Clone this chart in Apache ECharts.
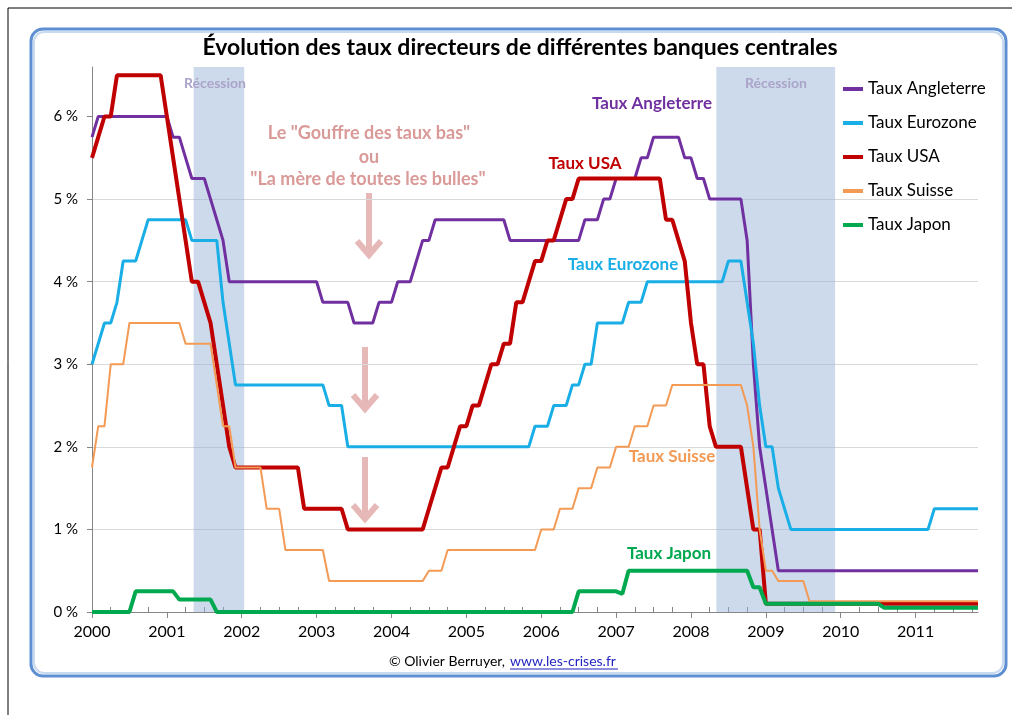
<!DOCTYPE html>
<html><head><meta charset="utf-8">
<script src="https://cdn.jsdelivr.net/npm/echarts@6/dist/echarts.min.js"></script>
<style>html,body{margin:0;padding:0;background:#fff}#c{width:1019px;height:715px}</style>
</head><body><div id="c"></div>
<script>
// ---- data (month "YYYY-MM" -> policy rate in %) ----
const tauxAngleterre = [
 ['2000-01',5.75],['2000-02',6.0],['2001-01',6.0],['2001-02',5.75],['2001-03',5.75],['2001-04',5.5],
 ['2001-05',5.25],['2001-07',5.25],['2001-08',5.0],['2001-09',4.75],['2001-10',4.5],['2001-11',4.0],
 ['2003-01',4.0],['2003-02',3.75],['2003-06',3.75],['2003-07',3.5],['2003-10',3.5],['2003-11',3.75],
 ['2004-01',3.75],['2004-02',4.0],['2004-04',4.0],['2004-05',4.25],['2004-06',4.5],['2004-07',4.5],
 ['2004-08',4.75],['2005-07',4.75],['2005-08',4.5],['2006-07',4.5],['2006-08',4.75],['2006-10',4.75],
 ['2006-11',5.0],['2006-12',5.0],['2007-01',5.25],['2007-04',5.25],['2007-05',5.5],['2007-06',5.5],
 ['2007-07',5.75],['2007-11',5.75],['2007-12',5.5],['2008-01',5.5],['2008-02',5.25],['2008-03',5.25],
 ['2008-04',5.0],['2008-09',5.0],['2008-10',4.5],['2008-11',3.0],['2008-12',2.0],['2009-01',1.5],
 ['2009-02',1.0],['2009-03',0.5],['2011-11',0.5]
];
const tauxEurozone = [
 ['2000-01',3.0],['2000-03',3.5],['2000-04',3.5],['2000-05',3.75],['2000-06',4.25],['2000-08',4.25],
 ['2000-09',4.5],['2000-10',4.75],['2001-04',4.75],['2001-05',4.5],['2001-09',4.5],['2001-10',3.75],
 ['2001-11',3.25],['2001-12',2.75],['2003-02',2.75],['2003-03',2.5],['2003-05',2.5],['2003-06',2.0],
 ['2005-11',2.0],['2005-12',2.25],['2006-02',2.25],['2006-03',2.5],['2006-05',2.5],['2006-06',2.75],
 ['2006-07',2.75],['2006-08',3.0],['2006-09',3.0],['2006-10',3.5],['2007-02',3.5],['2007-03',3.75],
 ['2007-05',3.75],['2007-06',4.0],['2008-06',4.0],['2008-07',4.25],['2008-09',4.25],['2008-10',3.75],
 ['2008-11',3.25],['2008-12',2.5],['2009-01',2.0],['2009-02',2.0],['2009-03',1.5],['2009-04',1.25],
 ['2009-05',1.0],['2011-03',1.0],['2011-04',1.25],['2011-11',1.25]
];
const tauxUSA = [
 ['2000-01',5.5],['2000-02',5.75],['2000-03',6.0],['2000-04',6.0],['2000-05',6.5],['2000-12',6.5],
 ['2001-01',6.0],['2001-02',5.5],['2001-03',5.0],['2001-04',4.5],['2001-05',4.0],['2001-06',4.0],
 ['2001-07',3.75],['2001-08',3.5],['2001-09',3.0],['2001-10',2.5],['2001-11',2.0],['2001-12',1.75],
 ['2002-10',1.75],['2002-11',1.25],['2003-05',1.25],['2003-06',1.0],['2004-06',1.0],['2004-07',1.25],
 ['2004-08',1.5],['2004-09',1.75],['2004-10',1.75],['2004-11',2.0],['2004-12',2.25],['2005-01',2.25],
 ['2005-02',2.5],['2005-03',2.5],['2005-04',2.75],['2005-05',3.0],['2005-06',3.0],['2005-07',3.25],
 ['2005-08',3.25],['2005-09',3.75],['2005-10',3.75],['2005-11',4.0],['2005-12',4.25],['2006-01',4.25],
 ['2006-02',4.5],['2006-03',4.5],['2006-04',4.75],['2006-05',5.0],['2006-06',5.0],['2006-07',5.25],
 ['2007-08',5.25],['2007-09',4.75],['2007-10',4.75],['2007-11',4.5],['2007-12',4.25],['2008-01',3.5],
 ['2008-02',3.0],['2008-03',3.0],['2008-04',2.25],['2008-05',2.0],['2008-09',2.0],['2008-10',1.5],
 ['2008-11',1.0],['2008-12',1.0],['2009-01',0.1],['2011-11',0.1]
];
const tauxSuisse = [
 ['2000-01',1.75],['2000-02',2.25],['2000-03',2.25],['2000-04',3.0],['2000-06',3.0],['2000-07',3.5],
 ['2001-03',3.5],['2001-04',3.25],['2001-08',3.25],['2001-09',2.75],['2001-10',2.25],['2001-11',2.25],
 ['2001-12',1.75],['2002-04',1.75],['2002-05',1.25],['2002-07',1.25],['2002-08',0.75],['2003-02',0.75],
 ['2003-03',0.375],['2004-06',0.375],['2004-07',0.5],['2004-09',0.5],['2004-10',0.75],['2005-12',0.75],
 ['2006-01',1.0],['2006-03',1.0],['2006-04',1.25],['2006-06',1.25],['2006-07',1.5],['2006-09',1.5],
 ['2006-10',1.75],['2006-12',1.75],['2007-01',2.0],['2007-03',2.0],['2007-04',2.25],['2007-06',2.25],
 ['2007-07',2.5],['2007-09',2.5],['2007-10',2.75],['2008-09',2.75],['2008-10',2.5],['2008-11',2.0],
 ['2008-12',1.0],['2009-01',0.5],['2009-02',0.5],['2009-03',0.375],['2009-07',0.375],['2009-08',0.13],
 ['2011-11',0.13]
];
const tauxJapon = [
 ['2000-01',0],['2000-07',0],['2000-08',0.25],['2001-01',0.25],['2001-02',0.25],['2001-03',0.15],
 ['2001-08',0.15],['2001-09',0],['2006-06',0],['2006-07',0.25],['2007-01',0.25],['2007-02',0.22],
 ['2007-03',0.5],['2008-09',0.5],['2008-10',0.5],['2008-11',0.3],['2008-12',0.3],['2009-01',0.1],
 ['2010-07',0.1],['2010-08',0.05],['2011-11',0.05]
];
const recessions = [['2001-05-10','2002-01-13'],['2008-05-03','2009-12-04']];
const yearTicks = [2000,2001,2002,2003,2004,2005,2006,2007,2008,2009,2010,2011];
const pctTicks = [0,1,2,3,4,5,6];
const seriesNames = ['Taux Angleterre','Taux Eurozone','Taux USA','Taux Suisse','Taux Japon'];

// ---- helpers ----
function toX(s){const p=s.split('-').map(Number);return p[0]+(p[1]-1)/12+((p[2]||1)-1)/365;}
function pts(arr){return arr.map(d=>[toX(d[0]),d[1]]);}
const xMin = toX('2000-01'), xMax = toX('2011-11');
const minorTicks=[];
yearTicks.forEach(y=>{[0.25,0.5,0.75].forEach(q=>{if(y+q<=xMax)minorTicks.push(y+q);});});

const FONT='Lato, "Open Sans", sans-serif';
const colors=['#7030a0','#19aee6','#c00000','#f39a55','#00a94f'];
const widths=[3,3,4,2,4];
const datasets=[tauxAngleterre,tauxEurozone,tauxUSA,tauxSuisse,tauxJapon];

const series = datasets.map((d,i)=>({
  name:seriesNames[i], type:'line', data:pts(d), showSymbol:false, symbol:'none',
  lineStyle:{color:colors[i],width:widths[i]}, itemStyle:{color:colors[i]},
  z:2+i, xAxisIndex:0, yAxisIndex:0
}));
series[0].markArea={silent:true,itemStyle:{color:'rgba(150,177,214,0.48)'},
  data:recessions.map(r=>[{xAxis:toX(r[0])},{xAxis:toX(r[1])}])};

function arrow(x,y1,y2){
  const c='#e6b8b7';
  return [{type:'line',shape:{x1:x,y1:y1,x2:x,y2:y2-2},style:{stroke:c,lineWidth:6}},
          {type:'polyline',shape:{points:[[x-12,y2-16],[x,y2-2],[x+12,y2-16]]},style:{stroke:c,lineWidth:6,fill:null,lineJoin:'miter'}}];
}
function txt(x,y,t,color,size,weight,align){
  return {type:'text',x:x,y:y,style:{text:t,fill:color,font:(weight||'normal')+' '+size+'px '+FONT,align:align||'center',verticalAlign:'middle'},z:100};
}

const graphic=[
  {type:'line',shape:{x1:8,y1:8,x2:1012,y2:8},style:{stroke:'#000',lineWidth:1}},
  {type:'line',shape:{x1:8,y1:8,x2:8,y2:715},style:{stroke:'#000',lineWidth:1}},
  {type:'rect',shape:{x:31,y:29,width:975,height:647,r:12},style:{fill:null,stroke:'#5d8fd2',lineWidth:3},z:-1},
  {type:'rect',shape:{x:34,y:32,width:969,height:641,r:10},style:{fill:null,stroke:'#c8daf0',lineWidth:2},z:-1},
  txt(520,48,'Évolution des taux directeurs de différentes banques centrales','#000',23,'bold'),
  txt(215,83,'Récession','#aaa4c8',14,'bold'),
  txt(776,83,'Récession','#aaa4c8',14,'bold'),
  txt(369,133,'Le "Gouffre des taux bas"','#d99a98',18,'bold'),
  txt(369,157,'ou','#d99a98',18,'bold'),
  txt(368,179,'"La mère de toutes les bulles"','#d99a98',18,'bold'),
  txt(652,104,'Taux Angleterre','#7030a0',17,'bold'),
  txt(585,164,'Taux USA','#c00000',17,'bold'),
  txt(623,265,'Taux Eurozone','#19aee6',17,'bold'),
  txt(672,457,'Taux Suisse','#f39a55',17,'bold'),
  txt(669,554,'Taux Japon','#00a94f',17,'bold'),
  txt(505,661,'© Olivier Berruyer,','#000',14,'normal','right'),
  txt(510,661,'www.les-crises.fr','#1f1fbf',14,'normal','left'),
  {type:'line',shape:{x1:510,y1:669,x2:618,y2:669},style:{stroke:'#1f1fbf',lineWidth:1}}
].concat(arrow(369,193,257),arrow(365,347,411),arrow(365,457,521));

const chart=echarts.init(document.getElementById('c'),null,{renderer:'canvas'});
chart.setOption({
  animation:false,
  backgroundColor:'#fff',
  grid:{left:92,right:41,top:67,bottom:103,containLabel:false},
  legend:{orient:'vertical',left:838,top:74,itemWidth:20,itemHeight:4,itemGap:14,icon:'rect',
    textStyle:{fontFamily:FONT,fontSize:17,color:'#000',lineHeight:20},data:seriesNames},
  xAxis:[{type:'value',min:xMin,max:xMax,interval:1,position:'bottom',
      axisLine:{lineStyle:{color:'#868686',width:1}},
      axisTick:{customValues:yearTicks,length:6,inside:false,lineStyle:{color:'#868686'}},
      axisLabel:{customValues:yearTicks,fontFamily:FONT,fontSize:16,color:'#000',margin:12,formatter:v=>String(v)},
      splitLine:{show:false}},
    {type:'value',min:xMin,max:xMax,interval:1,position:'bottom',offset:0,
      axisLine:{show:false},
      axisTick:{customValues:minorTicks,length:5,inside:true,lineStyle:{color:'#868686'}},
      axisLabel:{show:false},splitLine:{show:false}}],
  yAxis:{type:'value',min:0,max:6.6,interval:1,
      axisLine:{show:true,lineStyle:{color:'#868686'}},
      axisTick:{show:true,customValues:pctTicks,length:5,lineStyle:{color:'#868686'}},
      axisLabel:{customValues:pctTicks,fontFamily:FONT,fontSize:15,color:'#000',margin:14,formatter:v=>v+' %'},
      splitLine:{show:true,showMaxLine:false,lineStyle:{color:'#d9d9d9',width:1}}},
  graphic:graphic,
  series:series
});
</script></body></html>
